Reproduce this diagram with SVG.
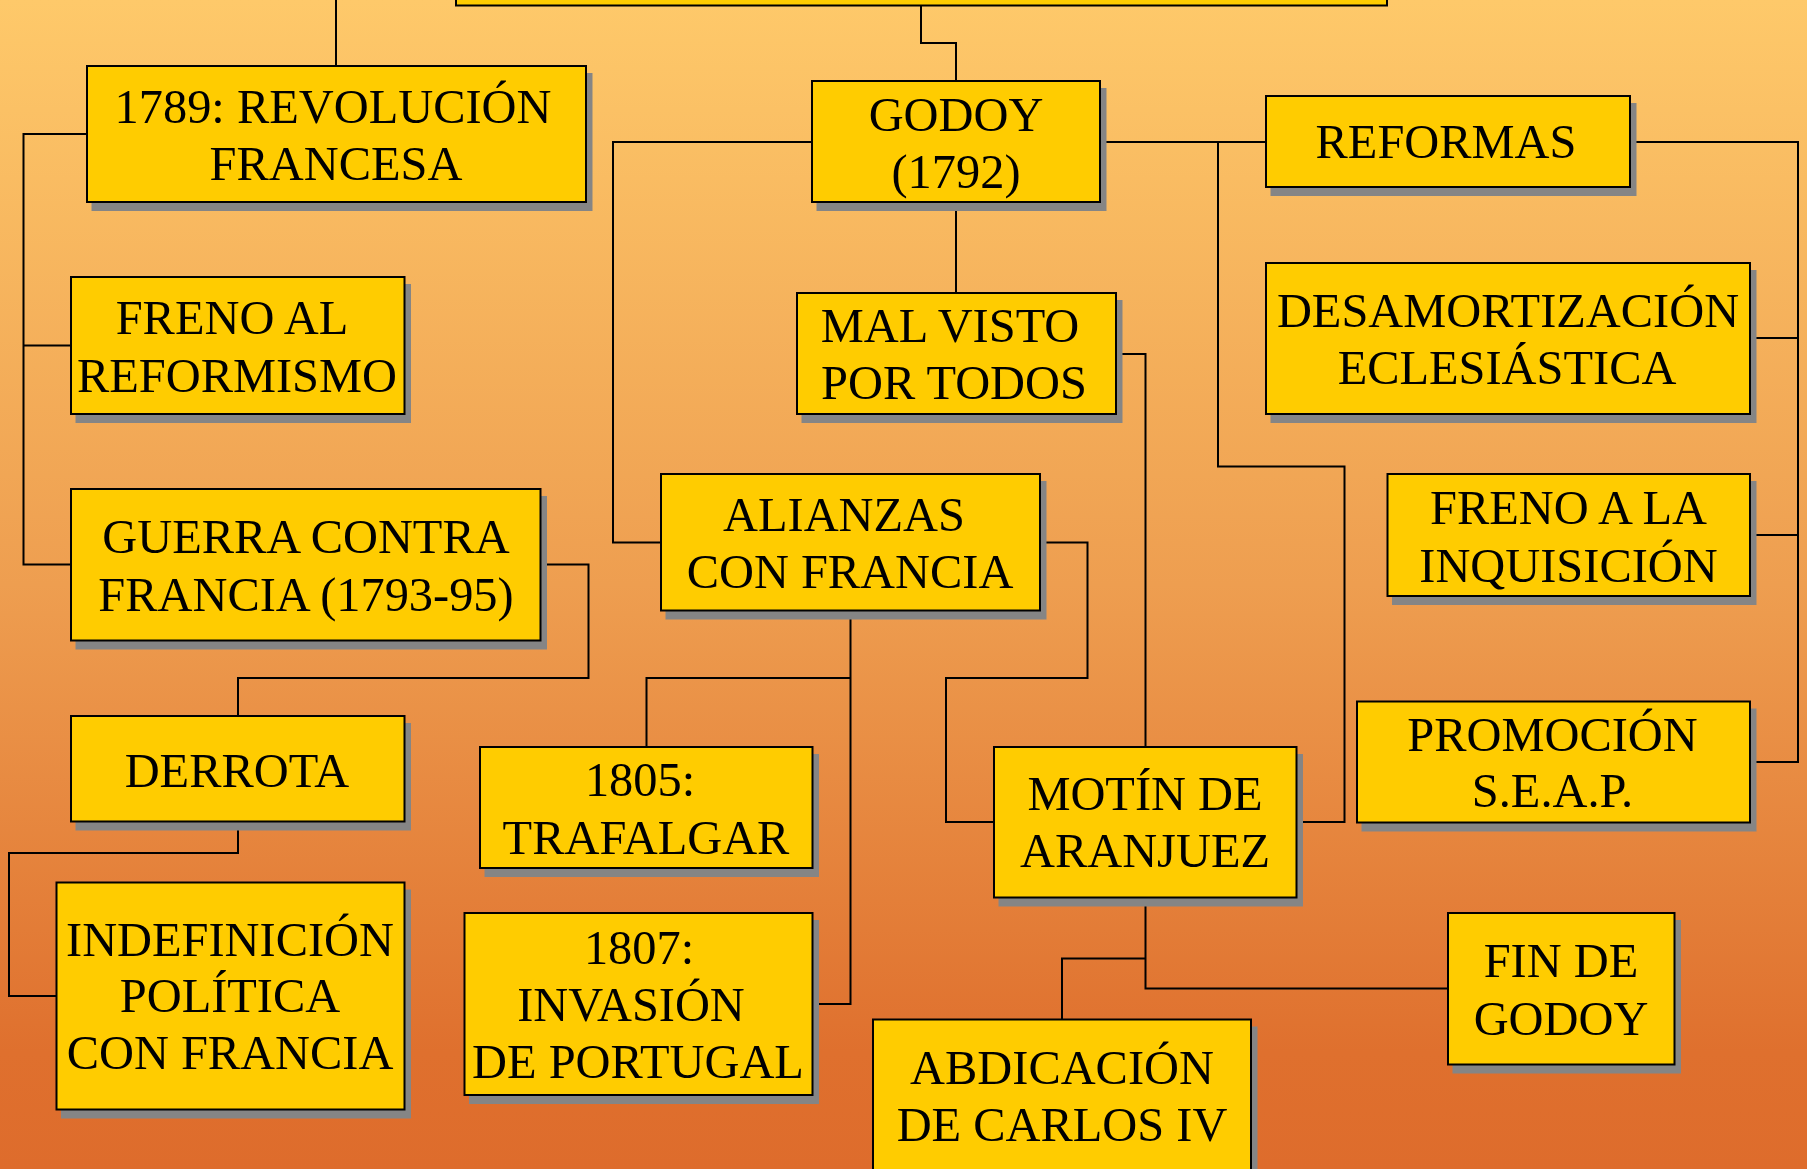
<svg xmlns="http://www.w3.org/2000/svg" xmlns:xlink="http://www.w3.org/1999/xlink" width="1807" height="1169" viewBox="0 0 1807 1169">
<defs>
<linearGradient id="bg" x1="0" y1="0" x2="0" y2="1">
<stop offset="0" stop-color="#FEC96A"/>
<stop offset="0.5" stop-color="#EE9E50"/>
<stop offset="0.9" stop-color="#DF702E"/>
<stop offset="1" stop-color="#DE6C2C"/>
</linearGradient>
</defs>
<style>
.sh{fill:#858585;stroke:#858585;stroke-width:2}
.bx{fill:#FFCC00;stroke:#000;stroke-width:2}
.t{font-family:"Liberation Serif","Times New Roman",serif;font-size:48.4px;fill:#000;text-anchor:middle}
.c{fill:none;stroke:#000;stroke-width:2}
</style>
<rect x="0" y="0" width="1807" height="1169" fill="url(#bg)"/>
<g id="connectors">
<path class="c" d="M336,0 V66"/>
<path class="c" d="M921,5 V43 H956 V81"/>
<path class="c" d="M87,134 H23.5 V564.5 H71"/>
<path class="c" d="M23.5,345.5 H71"/>
<path class="c" d="M540.5,564.5 H588.5 V678 H238 V716"/>
<path class="c" d="M238,821.5 V853 H9 V996 H56.5"/>
<path class="c" d="M812,142 H613 V542.5 H661"/>
<path class="c" d="M956,202 V293"/>
<path class="c" d="M1100,142 H1266"/>
<path class="c" d="M1218,142 V466.5 H1344.5 V822 H1296.5"/>
<path class="c" d="M1116,354 H1145.5 V747"/>
<path class="c" d="M850.5,610.5 V1004 H812.5"/>
<path class="c" d="M850.5,678 H646.5 V747"/>
<path class="c" d="M1039.5,542.5 H1087.5 V678 H946 V822 H994"/>
<path class="c" d="M1145.5,897.5 V988.5 H1448"/>
<path class="c" d="M1145.5,958.5 H1062 V1019.5"/>
<path class="c" d="M1630,142 H1798 V762 H1750"/>
<path class="c" d="M1750,338 H1798"/>
<path class="c" d="M1750,535 H1798"/>
</g>
<g id="n-top">
<rect class="bx" x="456" y="-60" width="931" height="65.5"/>
</g>
<g id="n-revolucion">
<rect class="sh" x="92.5" y="74" width="499" height="136"/>
<rect class="bx" x="87" y="66" width="499" height="136"/>
<text class="t" x="333" y="123">1789: REVOLUCIÓN</text>
<text class="t" x="336" y="180">FRANCESA</text>
</g>
<g id="n-freno-reformismo">
<rect class="sh" x="76.5" y="285" width="333.5" height="137"/>
<rect class="bx" x="71" y="277" width="333.5" height="137"/>
<text class="t" x="232" y="334">FRENO AL</text>
<text class="t" x="237" y="392">REFORMISMO</text>
</g>
<g id="n-guerra">
<rect class="sh" x="76.5" y="497" width="469.5" height="151.5"/>
<rect class="bx" x="71" y="489" width="469.5" height="151.5"/>
<text class="t" x="306" y="553">GUERRA CONTRA</text>
<text class="t" x="306" y="610.5">FRANCIA (1793-95)</text>
</g>
<g id="n-derrota">
<rect class="sh" x="76.5" y="724" width="333.5" height="105.5"/>
<rect class="bx" x="71" y="716" width="333.5" height="105.5"/>
<text class="t" x="237" y="787">DERROTA</text>
</g>
<g id="n-indefinicion">
<rect class="sh" x="62" y="890.5" width="348" height="227"/>
<rect class="bx" x="56.5" y="882.5" width="348" height="227"/>
<text class="t" x="230" y="956">INDEFINICIÓN</text>
<text class="t" x="230" y="1012">POLÍTICA</text>
<text class="t" x="230" y="1069">CON FRANCIA</text>
</g>
<g id="n-godoy">
<rect class="sh" x="817.5" y="89" width="288" height="121"/>
<rect class="bx" x="812" y="81" width="288" height="121"/>
<text class="t" x="956" y="130.5">GODOY</text>
<text class="t" x="956" y="188">(1792)</text>
</g>
<g id="n-malvisto">
<rect class="sh" x="802.5" y="301" width="319" height="121"/>
<rect class="bx" x="797" y="293" width="319" height="121"/>
<text class="t" x="950" y="342">MAL VISTO</text>
<text class="t" x="954" y="399">POR TODOS</text>
</g>
<g id="n-alianzas">
<rect class="sh" x="666.5" y="482" width="379" height="136.5"/>
<rect class="bx" x="661" y="474" width="379" height="136.5"/>
<text class="t" x="844" y="531">ALIANZAS</text>
<text class="t" x="850" y="587.5">CON FRANCIA</text>
</g>
<g id="n-trafalgar">
<rect class="sh" x="485.5" y="755" width="332.5" height="121"/>
<rect class="bx" x="480" y="747" width="332.5" height="121"/>
<text class="t" x="640" y="796">1805:</text>
<text class="t" x="646" y="853.5">TRAFALGAR</text>
</g>
<g id="n-portugal">
<rect class="sh" x="470" y="921" width="348" height="182"/>
<rect class="bx" x="464.5" y="913" width="348" height="182"/>
<text class="t" x="639" y="964">1807:</text>
<text class="t" x="631" y="1021">INVASIÓN</text>
<text class="t" x="638" y="1078">DE PORTUGAL</text>
</g>
<g id="n-motin">
<rect class="sh" x="999.5" y="755" width="302.5" height="150.5"/>
<rect class="bx" x="994" y="747" width="302.5" height="150.5"/>
<text class="t" x="1145" y="810">MOTÍN DE</text>
<text class="t" x="1145" y="867">ARANJUEZ</text>
</g>
<g id="n-abdicacion">
<rect class="sh" x="878.5" y="1027.5" width="378" height="200"/>
<rect class="bx" x="873" y="1019.5" width="378" height="200"/>
<text class="t" x="1062" y="1084">ABDICACIÓN</text>
<text class="t" x="1062" y="1140.5">DE CARLOS IV</text>
</g>
<g id="n-reformas">
<rect class="sh" x="1271.5" y="104" width="364" height="91"/>
<rect class="bx" x="1266" y="96" width="364" height="91"/>
<text class="t" x="1446" y="158">REFORMAS</text>
</g>
<g id="n-desamortizacion">
<rect class="sh" x="1271.5" y="271" width="484" height="151"/>
<rect class="bx" x="1266" y="263" width="484" height="151"/>
<text class="t" x="1508" y="326.5">DESAMORTIZACIÓN</text>
<text class="t" x="1507" y="384">ECLESIÁSTICA</text>
</g>
<g id="n-inquisicion">
<rect class="sh" x="1393" y="482" width="362.5" height="122"/>
<rect class="bx" x="1387.5" y="474" width="362.5" height="122"/>
<text class="t" x="1568.5" y="523.5">FRENO A LA</text>
<text class="t" x="1568.5" y="582">INQUISICIÓN</text>
</g>
<g id="n-seap">
<rect class="sh" x="1362.5" y="709.5" width="393" height="121"/>
<rect class="bx" x="1357" y="701.5" width="393" height="121"/>
<text class="t" x="1552.5" y="750.5">PROMOCIÓN</text>
<text class="t" x="1552.5" y="807">S.E.A.P.</text>
</g>
<g id="n-fingodoy">
<rect class="sh" x="1453.5" y="921" width="226.5" height="151.5"/>
<rect class="bx" x="1448" y="913" width="226.5" height="151.5"/>
<text class="t" x="1561" y="976.5">FIN DE</text>
<text class="t" x="1561" y="1035">GODOY</text>
</g>
</svg>
